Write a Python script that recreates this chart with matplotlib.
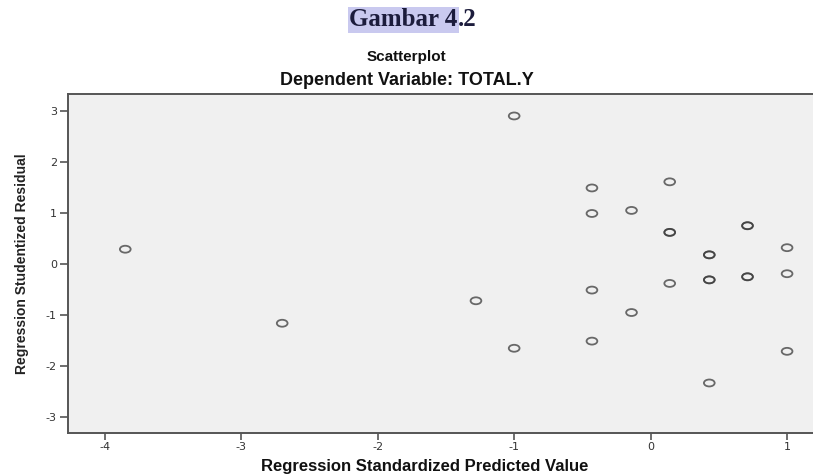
import numpy as np
import matplotlib
matplotlib.use("Agg")
import matplotlib.pyplot as plt
from matplotlib.path import Path
from matplotlib.transforms import Affine2D

# Predicted value (x) vs studentized residual (y)
pred = [-3.85, -2.70, -1.28, -1.00, -1.00,
        -0.43, -0.43, -0.43, -0.43, -0.14, -0.14,
        0.14, 0.14, 0.14, 0.14,
        0.43, 0.43, 0.43, 0.43, 0.43,
        0.71, 0.71, 0.71, 0.71,
        1.00, 1.00, 1.00]
resid = [0.29, -1.16, -0.72, 2.90, -1.65,
         1.49, 0.99, -0.51, -1.51, 1.05, -0.95,
         1.61, 0.62, 0.62, -0.38,
         0.18, 0.18, -0.31, -0.31, -2.33,
         0.75, 0.75, -0.25, -0.25,
         0.32, -0.19, -1.71]

xticks = [-4, -3, -2, -1, 0, 1]
yticks = [-3, -2, -1, 0, 1, 2, 3]

fig = plt.figure(figsize=(8.13, 4.76), dpi=100)
ax = fig.add_axes([0.0836, 0.0903, 0.9164, 0.7122])
ax.set_facecolor("#f0f0f0")

# small flat ellipse like SPSS circle markers
ell = Path.unit_circle().transformed(Affine2D().scale(1.55, 1.0))
ax.scatter(pred, resid, marker=ell, s=60, facecolors="none",
           edgecolors="#3a3a3a", linewidths=1.3, alpha=0.75, zorder=3)

ax.set_xlim(-4.27, 1.19)
ax.set_ylim(-3.31, 3.33)
ax.set_xticks(xticks)
ax.set_yticks(yticks)
ax.set_xticklabels([str(t) for t in xticks])
ax.set_yticklabels([str(t) for t in yticks])
ax.tick_params(axis="both", direction="out", width=1.2,
               color="#555555", labelsize=8, labelcolor="#333333")
ax.tick_params(axis="x", length=5, pad=1.5)
ax.tick_params(axis="y", length=6, pad=2)
for side in ["left", "bottom", "top"]:
    ax.spines[side].set_color("#555555")
    ax.spines[side].set_linewidth(1.4)
ax.spines["right"].set_visible(False)

fig.text(0.522, 0.021, "Regression Standardized Predicted Value", ha="center",
         va="center", fontsize=12, fontweight="bold", family="Liberation Sans",
         color="#111111")
fig.text(0.027, 0.447, "Regression Studentized Residual", rotation=90,
         ha="center", va="center", fontsize=10, fontweight="bold",
         family="Liberation Sans", color="#222222")

# figure caption with highlighted "Gambar 4"
fig.text(0.563, 0.958, "Gambar 4", ha="right", va="center", fontsize=18,
         fontweight="bold", family="Liberation Serif", color="#1c1c3c",
         bbox=dict(boxstyle="square,pad=0.05", facecolor="#c9c9ef",
                   edgecolor="none"))
fig.text(0.563, 0.958, ".2", ha="left", va="center", fontsize=18,
         fontweight="bold", family="Liberation Serif", color="#1c1c3c")

fig.text(0.5, 0.88, "Scatterplot", ha="center", va="center", fontsize=11,
         fontweight="bold", family="Liberation Sans", color="#111111")
fig.text(0.5, 0.83, "Dependent Variable: TOTAL.Y", ha="center", va="center",
         fontsize=13, fontweight="bold", family="Liberation Sans",
         color="#111111")

fig.savefig("out.png", dpi=100)
